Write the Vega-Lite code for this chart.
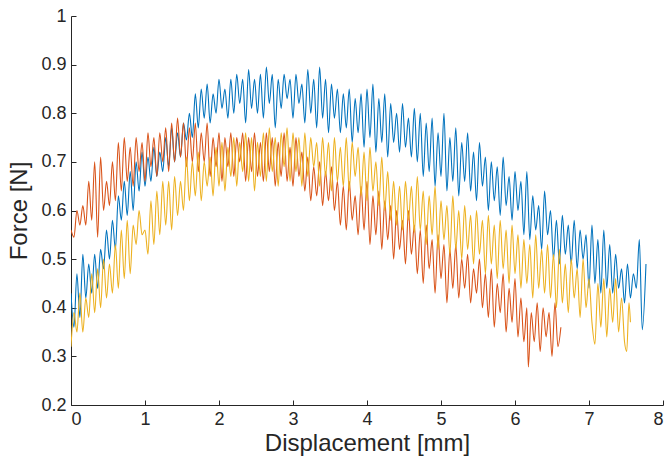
{
  "$schema": "https://vega.github.io/schema/vega-lite/v6.json",
  "autosize": "none",
  "width": 592,
  "height": 389,
  "padding": {"left": 71, "top": 16, "right": 7, "bottom": 58},
  "background": "white",
  "config": {
    "view": {"stroke": null},
    "axis": {
      "domainColor": "#262626",
      "tickColor": "#262626",
      "labelColor": "#262626",
      "titleColor": "#262626",
      "labelFont": "Liberation Sans",
      "titleFont": "Liberation Sans",
      "labelFontSize": 18,
      "titleFontSize": 24,
      "titleFontWeight": "normal",
      "grid": false,
      "tickSize": -5,
      "domainWidth": 1,
      "tickWidth": 1
    }
  },
  "datasets": {
    "blue": [
      {"x":0.00,"y":0.43},{"x":0.04,"y":0.36},{"x":0.08,"y":0.47},{"x":0.12,"y":0.38},{"x":0.16,"y":0.51},{"x":0.20,"y":0.42},{"x":0.24,"y":0.49},{"x":0.28,"y":0.43},{"x":0.32,"y":0.51},{"x":0.36,"y":0.44},
      {"x":0.40,"y":0.52},{"x":0.44,"y":0.48},{"x":0.48,"y":0.56},{"x":0.52,"y":0.50},{"x":0.56,"y":0.58},{"x":0.60,"y":0.52},{"x":0.64,"y":0.63},{"x":0.68,"y":0.58},{"x":0.72,"y":0.66},{"x":0.76,"y":0.59},
      {"x":0.80,"y":0.68},{"x":0.84,"y":0.60},{"x":0.88,"y":0.70},{"x":0.92,"y":0.64},{"x":0.96,"y":0.72},{"x":1.00,"y":0.65},{"x":1.04,"y":0.71},{"x":1.08,"y":0.66},{"x":1.12,"y":0.73},{"x":1.16,"y":0.67},
      {"x":1.20,"y":0.72},{"x":1.24,"y":0.68},{"x":1.28,"y":0.75},{"x":1.32,"y":0.69},{"x":1.36,"y":0.77},{"x":1.40,"y":0.70},{"x":1.44,"y":0.76},{"x":1.48,"y":0.71},{"x":1.52,"y":0.78},{"x":1.56,"y":0.745},
      {"x":1.60,"y":0.80},{"x":1.64,"y":0.75},{"x":1.68,"y":0.84},{"x":1.72,"y":0.77},{"x":1.76,"y":0.85},{"x":1.80,"y":0.79},{"x":1.84,"y":0.86},{"x":1.88,"y":0.78},{"x":1.92,"y":0.84},{"x":1.96,"y":0.80},
      {"x":2.00,"y":0.87},{"x":2.04,"y":0.81},{"x":2.08,"y":0.85},{"x":2.12,"y":0.79},{"x":2.16,"y":0.87},{"x":2.20,"y":0.80},{"x":2.24,"y":0.88},{"x":2.28,"y":0.82},{"x":2.32,"y":0.87},{"x":2.36,"y":0.78},
      {"x":2.40,"y":0.89},{"x":2.44,"y":0.81},{"x":2.48,"y":0.87},{"x":2.52,"y":0.80},{"x":2.56,"y":0.88},{"x":2.60,"y":0.79},{"x":2.64,"y":0.895},{"x":2.68,"y":0.82},{"x":2.72,"y":0.88},{"x":2.76,"y":0.77},
      {"x":2.80,"y":0.87},{"x":2.84,"y":0.81},{"x":2.88,"y":0.88},{"x":2.92,"y":0.83},{"x":2.96,"y":0.87},{"x":3.00,"y":0.79},{"x":3.04,"y":0.88},{"x":3.08,"y":0.82},{"x":3.12,"y":0.86},{"x":3.16,"y":0.78},
      {"x":3.20,"y":0.89},{"x":3.24,"y":0.80},{"x":3.28,"y":0.87},{"x":3.32,"y":0.77},{"x":3.36,"y":0.895},{"x":3.40,"y":0.79},{"x":3.44,"y":0.87},{"x":3.48,"y":0.76},{"x":3.52,"y":0.86},{"x":3.56,"y":0.79},
      {"x":3.60,"y":0.85},{"x":3.64,"y":0.76},{"x":3.68,"y":0.84},{"x":3.72,"y":0.77},{"x":3.76,"y":0.85},{"x":3.80,"y":0.74},{"x":3.84,"y":0.83},{"x":3.88,"y":0.76},{"x":3.92,"y":0.84},{"x":3.96,"y":0.73},
      {"x":4.00,"y":0.85},{"x":4.04,"y":0.75},{"x":4.08,"y":0.86},{"x":4.12,"y":0.72},{"x":4.16,"y":0.83},{"x":4.20,"y":0.74},{"x":4.24,"y":0.84},{"x":4.28,"y":0.71},{"x":4.32,"y":0.82},{"x":4.36,"y":0.74},
      {"x":4.40,"y":0.80},{"x":4.44,"y":0.72},{"x":4.48,"y":0.82},{"x":4.52,"y":0.73},{"x":4.56,"y":0.79},{"x":4.60,"y":0.71},{"x":4.64,"y":0.81},{"x":4.68,"y":0.70},{"x":4.72,"y":0.80},{"x":4.76,"y":0.67},
      {"x":4.80,"y":0.78},{"x":4.84,"y":0.68},{"x":4.88,"y":0.79},{"x":4.92,"y":0.65},{"x":4.96,"y":0.76},{"x":5.00,"y":0.67},{"x":5.04,"y":0.80},{"x":5.08,"y":0.64},{"x":5.12,"y":0.75},{"x":5.16,"y":0.66},
      {"x":5.20,"y":0.77},{"x":5.24,"y":0.63},{"x":5.28,"y":0.74},{"x":5.32,"y":0.66},{"x":5.36,"y":0.76},{"x":5.40,"y":0.64},{"x":5.44,"y":0.72},{"x":5.48,"y":0.62},{"x":5.52,"y":0.74},{"x":5.56,"y":0.65},
      {"x":5.60,"y":0.71},{"x":5.64,"y":0.60},{"x":5.68,"y":0.70},{"x":5.72,"y":0.62},{"x":5.76,"y":0.69},{"x":5.80,"y":0.59},{"x":5.84,"y":0.71},{"x":5.88,"y":0.61},{"x":5.92,"y":0.67},{"x":5.96,"y":0.58},
      {"x":6.00,"y":0.68},{"x":6.04,"y":0.60},{"x":6.08,"y":0.66},{"x":6.12,"y":0.55},{"x":6.16,"y":0.68},{"x":6.20,"y":0.54},{"x":6.24,"y":0.63},{"x":6.28,"y":0.56},{"x":6.32,"y":0.61},{"x":6.36,"y":0.52},
      {"x":6.40,"y":0.64},{"x":6.44,"y":0.55},{"x":6.48,"y":0.60},{"x":6.52,"y":0.50},{"x":6.56,"y":0.58},{"x":6.60,"y":0.49},{"x":6.64,"y":0.59},{"x":6.68,"y":0.51},{"x":6.72,"y":0.57},{"x":6.76,"y":0.49},
      {"x":6.80,"y":0.58},{"x":6.84,"y":0.48},{"x":6.88,"y":0.56},{"x":6.92,"y":0.50},{"x":6.96,"y":0.55},{"x":7.00,"y":0.44},{"x":7.04,"y":0.57},{"x":7.08,"y":0.45},{"x":7.12,"y":0.54},{"x":7.16,"y":0.43},
      {"x":7.20,"y":0.56},{"x":7.24,"y":0.44},{"x":7.28,"y":0.53},{"x":7.32,"y":0.43},{"x":7.36,"y":0.51},{"x":7.40,"y":0.44},{"x":7.44,"y":0.48},{"x":7.48,"y":0.41},{"x":7.52,"y":0.49},{"x":7.56,"y":0.42},
      {"x":7.60,"y":0.47},{"x":7.64,"y":0.44},{"x":7.68,"y":0.54},{"x":7.72,"y":0.355},{"x":7.77,"y":0.49}
    ],
    "orange": [
      {"x":0.00,"y":0.56},{"x":0.04,"y":0.545},{"x":0.08,"y":0.60},{"x":0.12,"y":0.57},{"x":0.16,"y":0.61},{"x":0.20,"y":0.57},{"x":0.24,"y":0.66},{"x":0.28,"y":0.58},{"x":0.32,"y":0.70},{"x":0.36,"y":0.545},
      {"x":0.40,"y":0.71},{"x":0.44,"y":0.60},{"x":0.48,"y":0.66},{"x":0.52,"y":0.61},{"x":0.56,"y":0.70},{"x":0.60,"y":0.62},{"x":0.64,"y":0.74},{"x":0.68,"y":0.64},{"x":0.72,"y":0.75},{"x":0.76,"y":0.66},
      {"x":0.80,"y":0.73},{"x":0.84,"y":0.65},{"x":0.88,"y":0.75},{"x":0.92,"y":0.68},{"x":0.96,"y":0.74},{"x":1.00,"y":0.66},{"x":1.04,"y":0.76},{"x":1.08,"y":0.69},{"x":1.12,"y":0.75},{"x":1.16,"y":0.67},
      {"x":1.20,"y":0.76},{"x":1.24,"y":0.70},{"x":1.28,"y":0.77},{"x":1.32,"y":0.68},{"x":1.36,"y":0.78},{"x":1.40,"y":0.70},{"x":1.44,"y":0.79},{"x":1.48,"y":0.71},{"x":1.52,"y":0.78},{"x":1.56,"y":0.69},
      {"x":1.60,"y":0.77},{"x":1.64,"y":0.70},{"x":1.68,"y":0.78},{"x":1.72,"y":0.68},{"x":1.76,"y":0.76},{"x":1.80,"y":0.70},{"x":1.84,"y":0.78},{"x":1.88,"y":0.67},{"x":1.92,"y":0.75},{"x":1.96,"y":0.69},
      {"x":2.00,"y":0.76},{"x":2.04,"y":0.66},{"x":2.08,"y":0.75},{"x":2.12,"y":0.69},{"x":2.16,"y":0.76},{"x":2.20,"y":0.67},{"x":2.24,"y":0.75},{"x":2.28,"y":0.70},{"x":2.32,"y":0.76},{"x":2.36,"y":0.66},
      {"x":2.40,"y":0.75},{"x":2.44,"y":0.68},{"x":2.48,"y":0.76},{"x":2.52,"y":0.67},{"x":2.56,"y":0.74},{"x":2.60,"y":0.66},{"x":2.64,"y":0.76},{"x":2.68,"y":0.68},{"x":2.72,"y":0.75},{"x":2.76,"y":0.65},
      {"x":2.80,"y":0.74},{"x":2.84,"y":0.67},{"x":2.88,"y":0.76},{"x":2.92,"y":0.66},{"x":2.96,"y":0.73},{"x":3.00,"y":0.65},{"x":3.04,"y":0.75},{"x":3.08,"y":0.67},{"x":3.12,"y":0.72},{"x":3.16,"y":0.64},
      {"x":3.20,"y":0.71},{"x":3.24,"y":0.62},{"x":3.28,"y":0.69},{"x":3.32,"y":0.63},{"x":3.36,"y":0.70},{"x":3.40,"y":0.61},{"x":3.44,"y":0.68},{"x":3.48,"y":0.62},{"x":3.52,"y":0.69},{"x":3.56,"y":0.60},
      {"x":3.60,"y":0.66},{"x":3.64,"y":0.57},{"x":3.68,"y":0.65},{"x":3.72,"y":0.56},{"x":3.76,"y":0.66},{"x":3.80,"y":0.58},{"x":3.84,"y":0.63},{"x":3.88,"y":0.55},{"x":3.92,"y":0.65},{"x":3.96,"y":0.56},
      {"x":4.00,"y":0.66},{"x":4.04,"y":0.53},{"x":4.08,"y":0.63},{"x":4.12,"y":0.55},{"x":4.16,"y":0.64},{"x":4.20,"y":0.52},{"x":4.24,"y":0.62},{"x":4.28,"y":0.54},{"x":4.32,"y":0.61},{"x":4.36,"y":0.50},
      {"x":4.40,"y":0.60},{"x":4.44,"y":0.52},{"x":4.48,"y":0.58},{"x":4.52,"y":0.49},{"x":4.56,"y":0.60},{"x":4.60,"y":0.51},{"x":4.64,"y":0.57},{"x":4.68,"y":0.47},{"x":4.72,"y":0.56},{"x":4.76,"y":0.45},
      {"x":4.80,"y":0.57},{"x":4.84,"y":0.48},{"x":4.88,"y":0.54},{"x":4.92,"y":0.43},{"x":4.96,"y":0.55},{"x":5.00,"y":0.46},{"x":5.04,"y":0.53},{"x":5.08,"y":0.41},{"x":5.12,"y":0.52},{"x":5.16,"y":0.44},
      {"x":5.20,"y":0.53},{"x":5.24,"y":0.42},{"x":5.28,"y":0.50},{"x":5.32,"y":0.44},{"x":5.36,"y":0.51},{"x":5.40,"y":0.41},{"x":5.44,"y":0.48},{"x":5.48,"y":0.43},{"x":5.52,"y":0.50},{"x":5.56,"y":0.40},
      {"x":5.60,"y":0.47},{"x":5.64,"y":0.38},{"x":5.68,"y":0.48},{"x":5.72,"y":0.36},{"x":5.76,"y":0.45},{"x":5.80,"y":0.39},{"x":5.84,"y":0.47},{"x":5.88,"y":0.35},{"x":5.92,"y":0.44},{"x":5.96,"y":0.37},
      {"x":6.00,"y":0.46},{"x":6.04,"y":0.34},{"x":6.08,"y":0.42},{"x":6.12,"y":0.33},{"x":6.16,"y":0.40},{"x":6.18,"y":0.278},{"x":6.22,"y":0.39},{"x":6.26,"y":0.33},{"x":6.30,"y":0.41},{"x":6.34,"y":0.31},
      {"x":6.38,"y":0.40},{"x":6.42,"y":0.34},{"x":6.46,"y":0.39},{"x":6.50,"y":0.30},{"x":6.54,"y":0.41},{"x":6.58,"y":0.32},{"x":6.62,"y":0.36}
    ],
    "yellow": [
      {"x":0.00,"y":0.32},{"x":0.04,"y":0.39},{"x":0.08,"y":0.35},{"x":0.12,"y":0.43},{"x":0.16,"y":0.35},{"x":0.20,"y":0.42},{"x":0.24,"y":0.38},{"x":0.28,"y":0.47},{"x":0.32,"y":0.39},{"x":0.36,"y":0.48},
      {"x":0.40,"y":0.40},{"x":0.44,"y":0.50},{"x":0.48,"y":0.42},{"x":0.52,"y":0.49},{"x":0.56,"y":0.43},{"x":0.60,"y":0.53},{"x":0.64,"y":0.44},{"x":0.68,"y":0.56},{"x":0.72,"y":0.46},{"x":0.76,"y":0.58},
      {"x":0.80,"y":0.47},{"x":0.84,"y":0.57},{"x":0.88,"y":0.53},{"x":0.92,"y":0.60},{"x":0.96,"y":0.55},{"x":1.00,"y":0.56},{"x":1.04,"y":0.51},{"x":1.08,"y":0.62},{"x":1.12,"y":0.53},{"x":1.16,"y":0.64},
      {"x":1.20,"y":0.55},{"x":1.24,"y":0.66},{"x":1.28,"y":0.57},{"x":1.32,"y":0.66},{"x":1.36,"y":0.56},{"x":1.40,"y":0.67},{"x":1.44,"y":0.59},{"x":1.48,"y":0.66},{"x":1.52,"y":0.60},{"x":1.56,"y":0.71},
      {"x":1.60,"y":0.62},{"x":1.64,"y":0.70},{"x":1.68,"y":0.63},{"x":1.72,"y":0.72},{"x":1.76,"y":0.62},{"x":1.80,"y":0.70},{"x":1.84,"y":0.65},{"x":1.88,"y":0.71},{"x":1.92,"y":0.63},{"x":1.96,"y":0.73},
      {"x":2.00,"y":0.65},{"x":2.04,"y":0.74},{"x":2.08,"y":0.64},{"x":2.12,"y":0.73},{"x":2.16,"y":0.67},{"x":2.20,"y":0.75},{"x":2.24,"y":0.65},{"x":2.28,"y":0.74},{"x":2.32,"y":0.68},{"x":2.36,"y":0.76},
      {"x":2.40,"y":0.66},{"x":2.44,"y":0.75},{"x":2.48,"y":0.64},{"x":2.52,"y":0.74},{"x":2.56,"y":0.67},{"x":2.60,"y":0.76},{"x":2.64,"y":0.66},{"x":2.68,"y":0.77},{"x":2.72,"y":0.68},{"x":2.76,"y":0.75},
      {"x":2.80,"y":0.65},{"x":2.84,"y":0.76},{"x":2.88,"y":0.69},{"x":2.92,"y":0.77},{"x":2.96,"y":0.66},{"x":3.00,"y":0.76},{"x":3.04,"y":0.68},{"x":3.08,"y":0.75},{"x":3.12,"y":0.65},{"x":3.16,"y":0.76},
      {"x":3.20,"y":0.67},{"x":3.24,"y":0.75},{"x":3.28,"y":0.69},{"x":3.32,"y":0.74},{"x":3.36,"y":0.65},{"x":3.40,"y":0.75},{"x":3.44,"y":0.67},{"x":3.48,"y":0.74},{"x":3.52,"y":0.64},{"x":3.56,"y":0.75},
      {"x":3.60,"y":0.66},{"x":3.64,"y":0.73},{"x":3.68,"y":0.65},{"x":3.72,"y":0.75},{"x":3.76,"y":0.64},{"x":3.80,"y":0.74},{"x":3.84,"y":0.67},{"x":3.88,"y":0.73},{"x":3.92,"y":0.63},{"x":3.96,"y":0.72},
      {"x":4.00,"y":0.62},{"x":4.04,"y":0.73},{"x":4.08,"y":0.64},{"x":4.12,"y":0.70},{"x":4.16,"y":0.61},{"x":4.20,"y":0.71},{"x":4.24,"y":0.60},{"x":4.28,"y":0.68},{"x":4.32,"y":0.58},{"x":4.36,"y":0.66},
      {"x":4.40,"y":0.57},{"x":4.44,"y":0.65},{"x":4.48,"y":0.56},{"x":4.52,"y":0.66},{"x":4.56,"y":0.58},{"x":4.60,"y":0.65},{"x":4.64,"y":0.555},{"x":4.68,"y":0.67},{"x":4.72,"y":0.56},{"x":4.76,"y":0.64},
      {"x":4.80,"y":0.53},{"x":4.84,"y":0.63},{"x":4.88,"y":0.55},{"x":4.92,"y":0.65},{"x":4.96,"y":0.52},{"x":5.00,"y":0.62},{"x":5.04,"y":0.54},{"x":5.08,"y":0.61},{"x":5.12,"y":0.51},{"x":5.16,"y":0.63},
      {"x":5.20,"y":0.52},{"x":5.24,"y":0.60},{"x":5.28,"y":0.50},{"x":5.32,"y":0.61},{"x":5.36,"y":0.52},{"x":5.40,"y":0.59},{"x":5.44,"y":0.49},{"x":5.48,"y":0.60},{"x":5.52,"y":0.51},{"x":5.56,"y":0.58},
      {"x":5.60,"y":0.47},{"x":5.64,"y":0.59},{"x":5.68,"y":0.49},{"x":5.72,"y":0.57},{"x":5.76,"y":0.46},{"x":5.80,"y":0.58},{"x":5.84,"y":0.48},{"x":5.88,"y":0.56},{"x":5.92,"y":0.45},{"x":5.96,"y":0.57},
      {"x":6.00,"y":0.47},{"x":6.04,"y":0.55},{"x":6.08,"y":0.44},{"x":6.12,"y":0.54},{"x":6.16,"y":0.45},{"x":6.20,"y":0.53},{"x":6.24,"y":0.42},{"x":6.28,"y":0.55},{"x":6.32,"y":0.44},{"x":6.36,"y":0.52},
      {"x":6.40,"y":0.43},{"x":6.44,"y":0.53},{"x":6.48,"y":0.42},{"x":6.52,"y":0.51},{"x":6.56,"y":0.40},{"x":6.60,"y":0.52},{"x":6.64,"y":0.41},{"x":6.68,"y":0.49},{"x":6.72,"y":0.39},{"x":6.76,"y":0.50},
      {"x":6.80,"y":0.42},{"x":6.84,"y":0.48},{"x":6.88,"y":0.38},{"x":6.92,"y":0.50},{"x":6.96,"y":0.40},{"x":7.00,"y":0.46},{"x":7.04,"y":0.37},{"x":7.08,"y":0.325},{"x":7.12,"y":0.45},{"x":7.16,"y":0.36},
      {"x":7.20,"y":0.46},{"x":7.24,"y":0.34},{"x":7.28,"y":0.44},{"x":7.32,"y":0.37},{"x":7.36,"y":0.46},{"x":7.40,"y":0.35},{"x":7.44,"y":0.42},{"x":7.48,"y":0.33},{"x":7.51,"y":0.31},{"x":7.54,"y":0.41},
      {"x":7.56,"y":0.37}
    ]
  },
  "encoding": {
    "x": {
      "field": "x",
      "type": "quantitative",
      "scale": {"domain": [0, 8], "nice": false},
      "axis": {"values": [0, 1, 2, 3, 4, 5, 6, 7, 8], "format": "d", "title": "Displacement [mm]", "labelPadding": 10, "titlePadding": 3}
    },
    "y": {
      "field": "y",
      "type": "quantitative",
      "scale": {"domain": [0.2, 1], "nice": false, "zero": false},
      "axis": {"values": [0.2, 0.3, 0.4, 0.5, 0.6, 0.7, 0.8, 0.9, 1], "format": "~g", "title": "Force [N]", "labelPadding": 10, "titlePadding": 9}
    }
  },
  "layer": [
    {"data": {"name": "blue"}, "mark": {"type": "line", "color": "#0072BD", "strokeWidth": 1.1, "interpolate": "monotone", "clip": true}},
    {"data": {"name": "orange"}, "mark": {"type": "line", "color": "#D95319", "strokeWidth": 1.1, "interpolate": "monotone", "clip": true}},
    {"data": {"name": "yellow"}, "mark": {"type": "line", "color": "#EDB120", "strokeWidth": 1.1, "interpolate": "monotone", "clip": true}}
  ]
}
